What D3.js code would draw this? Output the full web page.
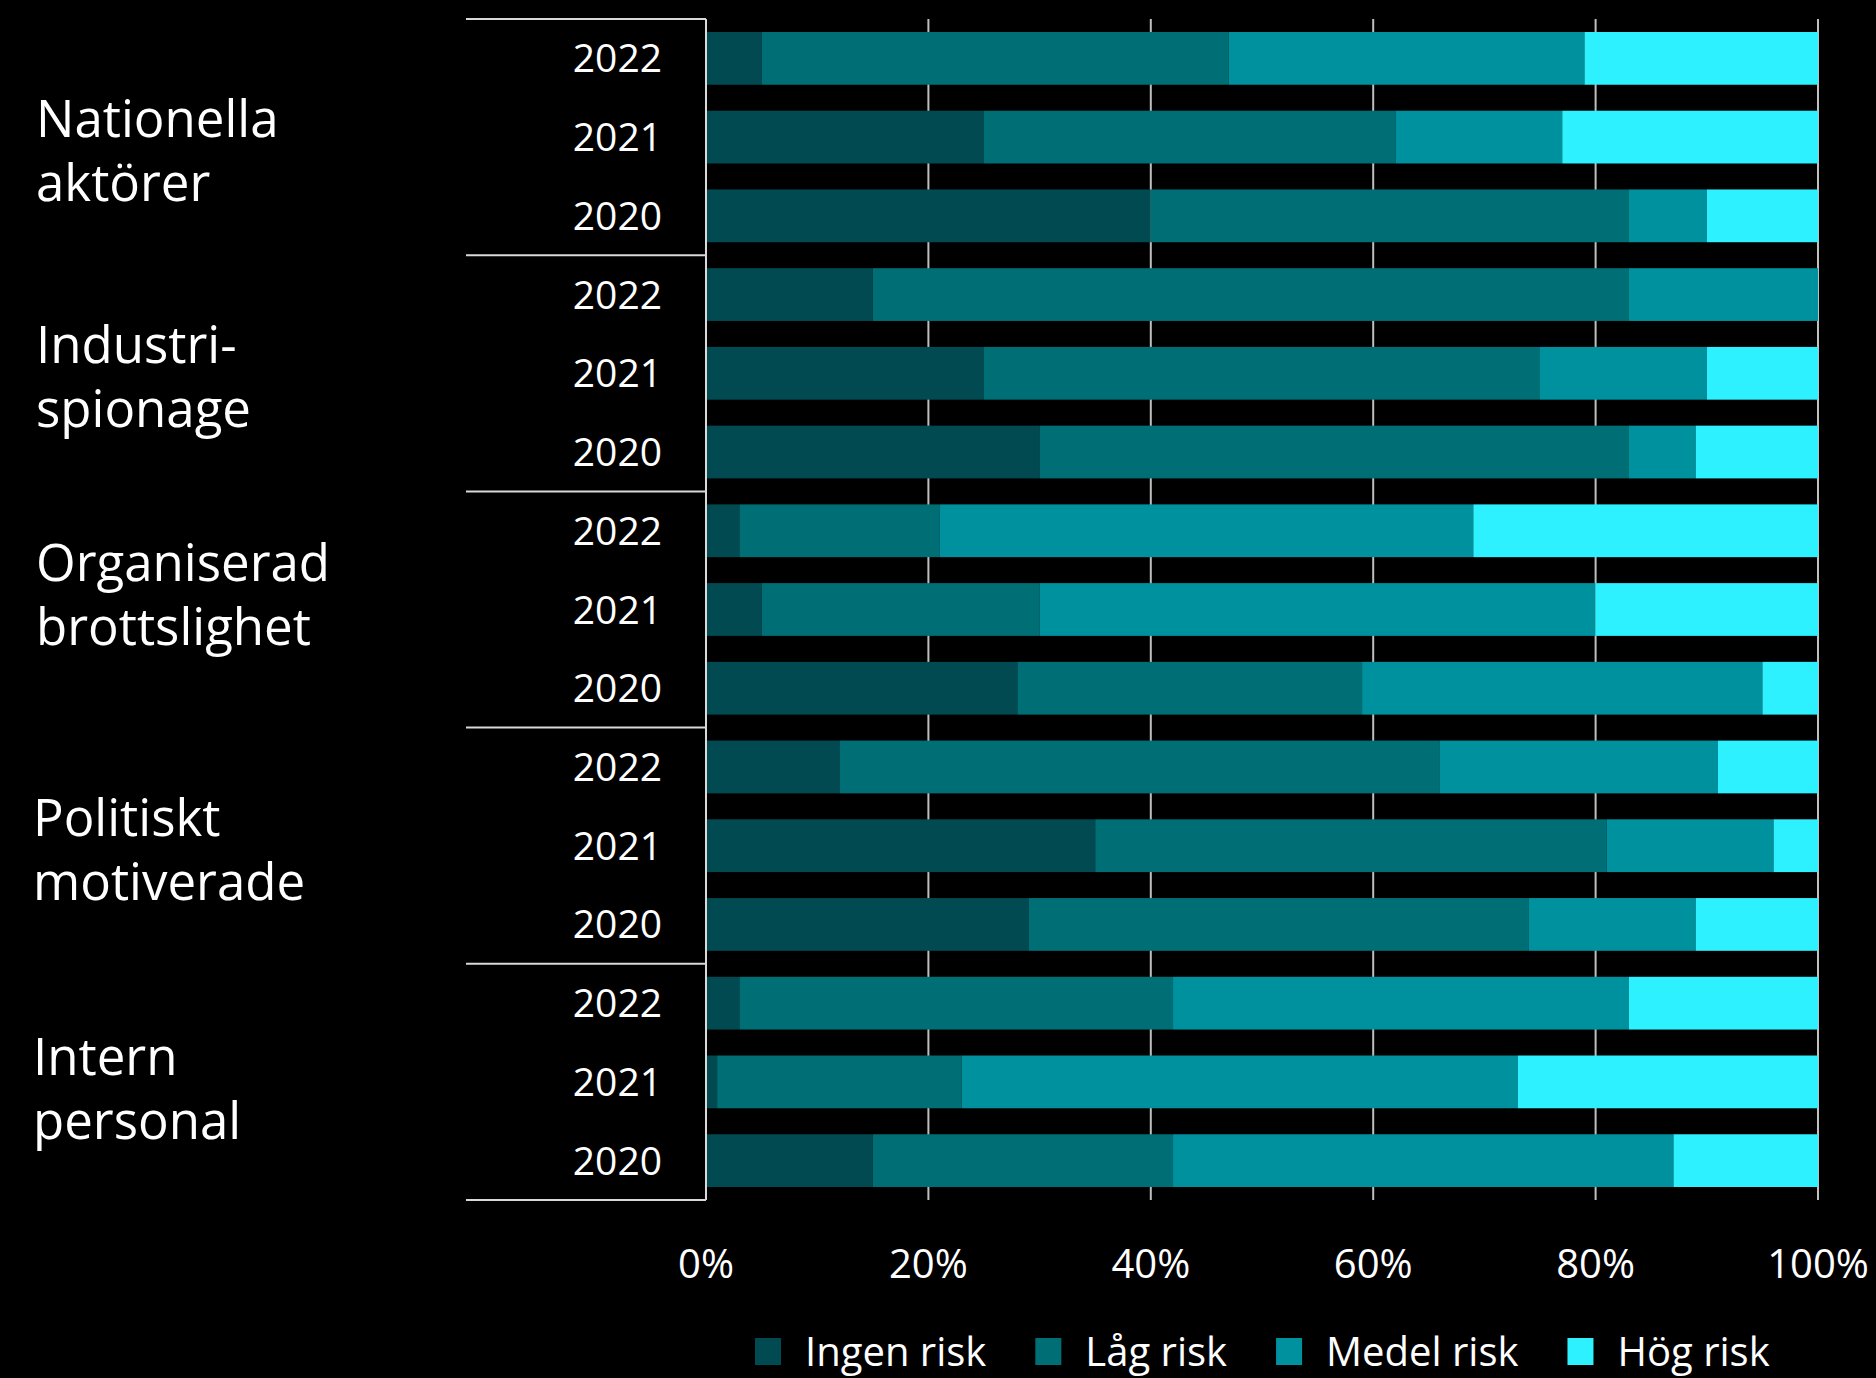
<!DOCTYPE html>
<html>
<head>
<meta charset="utf-8">
<script src="https://cdn.jsdelivr.net/npm/d3@7"></script>
<style>
  html, body { margin: 0; padding: 0; background: #000; }
  svg { display: block; font-family: 'Open Sans', sans-serif; }
</style>
</head>
<body>
<svg width="1876" height="1378"></svg>
<script>
// groups (top to bottom), each with three years
var groupLabels = [
  ['Nationella', 'aktörer'],
  ['Industri-', 'spionage'],
  ['Organiserad', 'brottslighet'],
  ['Politiskt', 'motiverade'],
  ['Intern', 'personal']
]
var years = ['2022', '2021', '2020']
var seriesNames = ['Ingen risk', 'Låg risk', 'Medel risk', 'Hög risk']
var seriesColors = ['#024a51', '#006e75', '#00919e', '#2df1fe']
var tickValues = [0, 20, 40, 60, 80, 100]

// percent per row, group-major, years 2022, 2021, 2020
var ingenRisk = [5, 25, 40, 15, 25, 30, 3, 5, 28, 12, 35, 29, 3, 1, 15]
var lagRisk = [42, 37, 43, 68, 50, 53, 18, 25, 31, 54, 46, 45, 39, 22, 27]
var medelRisk = [32, 15, 7, 17, 15, 6, 48, 50, 36, 25, 15, 15, 41, 50, 45]
var hogRisk = [21, 23, 10, 0, 10, 11, 31, 20, 5, 9, 4, 11, 17, 27, 13]

;(function (d3) {
  var svg = d3.select('svg')
  var W = 1876
  var H = 1378

  svg.append('rect').attr('width', W).attr('height', H).attr('fill', '#000')

  var rows = []
  groupLabels.forEach(function (g, gi) {
    years.forEach(function (y, yi) {
      var i = gi * years.length + yi
      rows.push({
        id: gi + '-' + y,
        group: gi,
        year: y,
        'Ingen risk': ingenRisk[i],
        'Låg risk': lagRisk[i],
        'Medel risk': medelRisk[i],
        'Hög risk': hogRisk[i]
      })
    })
  })

  var top = 19
  var bottom = 1200
  var x = d3.scaleLinear().domain([0, 100]).range([706, 1818])
  var y = d3.scaleBand()
    .domain(rows.map(function (d) { return d.id }))
    .range([top, bottom])
    .paddingInner(0.33)
    .paddingOuter(0.165)
  var color = d3.scaleOrdinal().domain(seriesNames).range(seriesColors)

  // gridlines
  svg.append('g')
    .selectAll('line')
    .data(tickValues.slice(1))
    .join('line')
    .attr('x1', d => x(d)).attr('x2', d => x(d))
    .attr('y1', top).attr('y2', bottom)
    .attr('stroke', '#bfbfbf')
    .attr('stroke-width', 2)

  // stacked bars
  var stacked = d3.stack().keys(seriesNames)(rows)
  svg.append('g')
    .selectAll('g')
    .data(stacked)
    .join('g')
    .attr('fill', d => color(d.key))
    .selectAll('rect')
    .data(d => d)
    .join('rect')
    .attr('x', d => x(d[0]))
    .attr('width', d => x(d[1]) - x(d[0]))
    .attr('y', d => y(d.data.id))
    .attr('height', y.bandwidth())

  // category axis line
  svg.append('line')
    .attr('x1', x(0)).attr('x2', x(0))
    .attr('y1', top).attr('y2', bottom)
    .attr('stroke', '#d9d9d9')
    .attr('stroke-width', 2)

  // group separators
  var step = y.step()
  var sepY = d3.range(groupLabels.length + 1).map(function (i) {
    return top + i * step * years.length
  })
  svg.append('g')
    .selectAll('line')
    .data(sepY)
    .join('line')
    .attr('x1', 466).attr('x2', x(0))
    .attr('y1', d => d).attr('y2', d => d)
    .attr('stroke', '#d9d9d9')
    .attr('stroke-width', 2)

  // year labels
  svg.append('g')
    .selectAll('text')
    .data(rows)
    .join('text')
    .attr('x', 662)
    .attr('y', d => y(d.id) + y.bandwidth() / 2 + 14)
    .attr('text-anchor', 'end')
    .attr('fill', '#fff')
    .style('font-size', '39px')
    .text(d => d.year)

  // group labels (text boxes sit a bit unevenly in the original)
  var labelNudge = [0, -10, -29, -10, -7]
  var labelLeft = [36, 36, 36, 33, 33]
  var gl = svg.append('g')
    .selectAll('text')
    .data(groupLabels)
    .join('text')
    .attr('fill', '#fff')
    .style('font-size', '51px')
    .attr('transform', function (d, i) {
      var cy = (sepY[i] + sepY[i + 1]) / 2
      return 'translate(' + labelLeft[i] + ',' + (cy + labelNudge[i]) + ')'
    })
  gl.selectAll('tspan')
    .data(d => d)
    .join('tspan')
    .attr('x', 0)
    .attr('y', (d, i) => i * 64)
    .text(d => d)

  // x tick labels
  svg.append('g')
    .selectAll('text')
    .data(tickValues)
    .join('text')
    .attr('x', d => x(d))
    .attr('y', 1278)
    .attr('text-anchor', 'middle')
    .attr('fill', '#fff')
    .style('font-size', '40px')
    .text(d => d + '%')

  // legend
  var legend = svg.append('g').attr('transform', 'translate(755,1338)')
  var lx = 0
  seriesNames.forEach(function (name) {
    var item = legend.append('g').attr('transform', 'translate(' + lx + ',0)')
    item.append('rect')
      .attr('width', 26).attr('height', 27)
      .attr('fill', color(name))
    var t = item.append('text')
      .attr('x', 50)
      .attr('y', 28)
      .attr('fill', '#fff')
      .style('font-size', '40px')
      .text(name)
    lx += 50 + t.node().getComputedTextLength() + 49
  })
})(window.d3)
</script>
</body>
</html>
